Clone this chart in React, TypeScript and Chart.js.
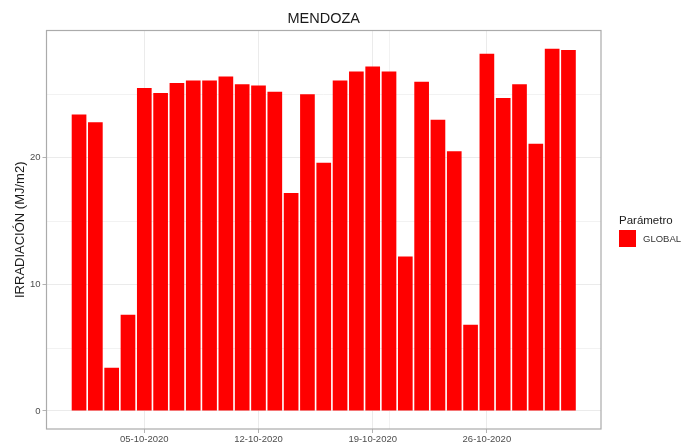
import React, { useEffect, useRef } from "react";
import { Chart, registerables } from "chart.js";

Chart.register(...registerables);

const days = [1, 2, 3, 4, 5, 6, 7, 8, 9, 10, 11, 12, 13, 14, 15, 16, 17, 18, 19, 20, 21, 22, 23, 24, 25, 26, 27, 28, 29, 30, 31];
const globalValues = [23.4, 22.8, 3.4, 7.6, 25.5, 25.1, 25.9, 26.1, 26.1, 26.4, 25.8, 25.7, 25.2, 17.2, 25.0, 19.6, 26.1, 26.8, 27.2, 26.8, 12.2, 26.0, 23.0, 20.5, 6.8, 28.2, 24.7, 25.8, 21.1, 28.6, 28.5];
const xTickDays = [5, 12, 19, 26];
const xTickLabels = ["05-10-2020", "12-10-2020", "19-10-2020", "26-10-2020"];
const xMinorDays = [20];
const yTicks = [0, 10, 20];
const yMinorTicks = [5, 15, 25];

const TITLE = "MENDOZA";
const Y_TITLE = "IRRADIACIÓN (MJ/m2)";
const LEGEND_TITLE = "Parámetro";
const SERIES_NAME = "GLOBAL";
const FONT = "'Liberation Sans', Arial, sans-serif";

const decorPlugin = {
  id: "decor",
  beforeDatasetsDraw(chart: any) {
    const { ctx, chartArea: a, scales } = chart;
    ctx.save();
    ctx.strokeStyle = "#f2f2f2";
    ctx.lineWidth = 1;
    yMinorTicks.forEach((v) => {
      const y = Math.round(scales.y.getPixelForValue(v)) + 0.5;
      ctx.beginPath();
      ctx.moveTo(a.left, y);
      ctx.lineTo(a.right, y);
      ctx.stroke();
    });
    xMinorDays.forEach((v) => {
      const x = Math.round(scales.x.getPixelForValue(v)) + 0.5;
      ctx.beginPath();
      ctx.moveTo(x, a.top);
      ctx.lineTo(x, a.bottom);
      ctx.stroke();
    });
    ctx.restore();
  },
  afterDraw(chart: any) {
    const { ctx, chartArea: a } = chart;
    ctx.save();
    // panel border
    ctx.strokeStyle = "#ababab";
    ctx.lineWidth = 1.2;
    ctx.strokeRect(a.left, a.top, a.right - a.left, a.bottom - a.top);
    // title
    ctx.fillStyle = "#1a1a1a";
    ctx.font = `14.5px ${FONT}`;
    ctx.textAlign = "center";
    ctx.textBaseline = "alphabetic";
    ctx.fillText(TITLE, (a.left + a.right) / 2, 22.7);
    // y axis title
    ctx.save();
    ctx.translate(20, (a.top + a.bottom) / 2);
    ctx.rotate(-Math.PI / 2);
    ctx.font = `13px ${FONT}`;
    ctx.textAlign = "center";
    ctx.textBaseline = "middle";
    ctx.fillText(Y_TITLE, 0, 0);
    ctx.restore();
    // legend
    ctx.textAlign = "left";
    ctx.textBaseline = "alphabetic";
    ctx.font = `11.5px ${FONT}`;
    ctx.fillStyle = "#1a1a1a";
    ctx.fillText(LEGEND_TITLE, 619, 224);
    ctx.fillStyle = "#ff0000";
    ctx.fillRect(619, 230, 17, 17);
    ctx.fillStyle = "#333333";
    ctx.font = `9.5px ${FONT}`;
    ctx.textBaseline = "middle";
    ctx.fillText(SERIES_NAME, 643, 239);
    ctx.restore();
  },
};

export default function App() {
  const ref = useRef<HTMLCanvasElement>(null);
  useEffect(() => {
    if (!ref.current) return;
    const chart = new Chart(ref.current, {
      type: "bar",
      data: {
        datasets: [
          {
            label: SERIES_NAME,
            data: days.map((d, i) => ({ x: d, y: globalValues[i] })),
            backgroundColor: "#ff0000",
            borderWidth: 0,
            barPercentage: 0.9,
            categoryPercentage: 1.0,
          },
        ],
      },
      options: {
        animation: false,
        responsive: false,
        devicePixelRatio: 1,
        layout: { padding: { left: 0, right: 95, top: 30.5, bottom: 0 } },
        plugins: { legend: { display: false }, tooltip: { enabled: false }, title: { display: false } },
        scales: {
          x: {
            type: "linear",
            min: -0.995,
            max: 32.995,
            offset: false,
            afterBuildTicks: (s: any) => {
              s.ticks = xTickDays.map((v) => ({ value: v }));
            },
            afterFit: (s: any) => {
              s.height = 18;
            },
            ticks: {
              autoSkip: false,
              maxRotation: 0,
              padding: 1,
              color: "#4d4d4d",
              font: { family: FONT, size: 9.5 },
              callback: (v: any) => {
                const i = xTickDays.indexOf(Number(v));
                return i >= 0 ? xTickLabels[i] : "";
              },
            },
            grid: { offset: false, color: "#ebebeb", lineWidth: 1, tickColor: "#b3b3b3", tickLength: 4 },
            border: { display: false },
          },
          y: {
            type: "linear",
            min: -1.43,
            max: 30.04,
            afterBuildTicks: (s: any) => {
              s.ticks = yTicks.map((v) => ({ value: v }));
            },
            afterFit: (s: any) => {
              s.width = 46.5;
            },
            ticks: {
              padding: 2,
              color: "#4d4d4d",
              font: { family: FONT, size: 9.5 },
              callback: (v: any) => String(v),
            },
            grid: { color: "#ebebeb", lineWidth: 1, tickColor: "#b3b3b3", tickLength: 4 },
            border: { display: false },
          },
        },
      },
      plugins: [decorPlugin],
    } as any);
    return () => chart.destroy();
  }, []);
  return (
    <div style={{ position: "absolute", left: 0, top: 0, width: 696, height: 447, background: "#fff" }}>
      <canvas ref={ref} width={696} height={447} style={{ display: "block" }} />
    </div>
  );
}
